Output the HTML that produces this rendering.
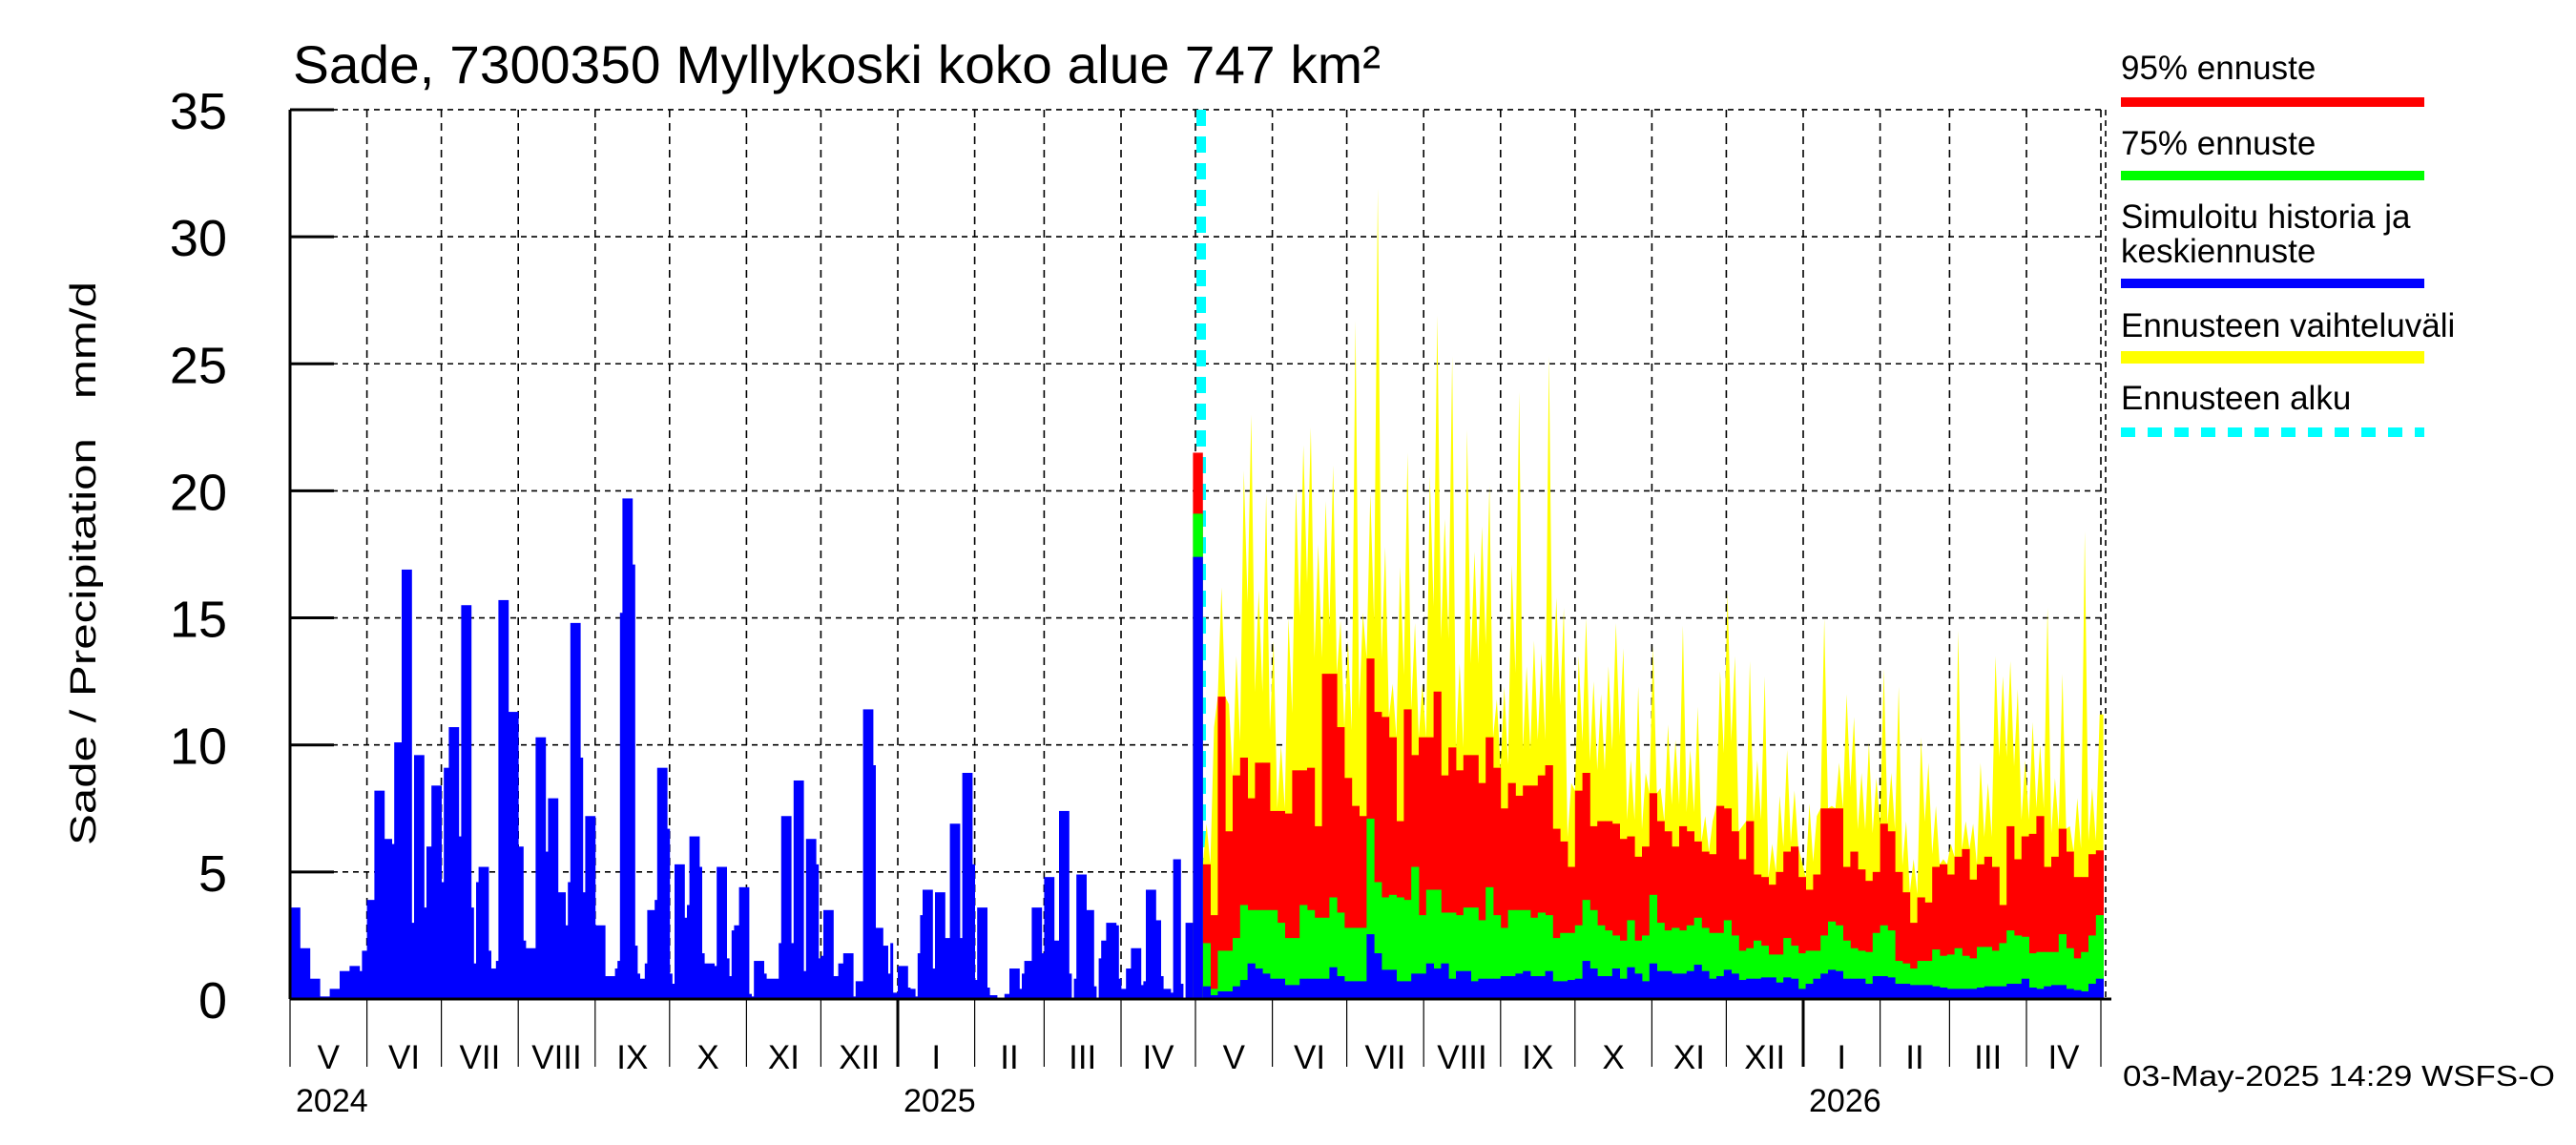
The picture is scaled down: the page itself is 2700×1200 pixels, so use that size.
<!DOCTYPE html>
<html><head><meta charset="utf-8"><style>
html,body{margin:0;padding:0;background:#fff}
svg{display:block}
text{font-family:"Liberation Sans",Arial,sans-serif;fill:#000}
</style></head><body>
<svg id="chart" width="2700" height="1200" viewBox="0 0 2700 1200" xmlns="http://www.w3.org/2000/svg">
<defs><clipPath id="plotclip"><rect x="304" y="100" width="1909" height="948"/></clipPath></defs>
<text x="307" y="87" font-size="56" textLength="1140" lengthAdjust="spacingAndGlyphs">Sade, 7300350 Myllykoski koko alue 747 km²</text>
<text transform="translate(100,886) rotate(-90)" font-size="38" textLength="591" lengthAdjust="spacingAndGlyphs" xml:space="preserve">Sade / Precipitation   mm/d</text>
<g id="grid"></g>
<g id="marks" clip-path="url(#plotclip)"></g>
<g id="axes"></g>
<g id="legend">
 <text x="2223" y="83" font-size="35">95% ennuste</text>
 <rect x="2223" y="102" width="318" height="10" fill="#ff0000"/>
 <text x="2223" y="162" font-size="35">75% ennuste</text>
 <rect x="2223" y="179" width="318" height="10" fill="#00ff00"/>
 <text x="2223" y="239" font-size="35">Simuloitu historia ja</text>
 <text x="2223" y="275" font-size="35">keskiennuste</text>
 <rect x="2223" y="292" width="318" height="10" fill="#0000ff"/>
 <text x="2223" y="353" font-size="35">Ennusteen vaihteluväli</text>
 <rect x="2223" y="368" width="318" height="13" fill="#ffff00"/>
 <text x="2223" y="429" font-size="35">Ennusteen alku</text>
 <line x1="2223" y1="453" x2="2541" y2="453" stroke="#00ffff" stroke-width="10" stroke-dasharray="15 13"/>
</g>
<text x="2225" y="1138" font-size="31" textLength="453" lengthAdjust="spacingAndGlyphs">03-May-2025 14:29 WSFS-O</text>
</svg>
<script>
// ---- data ----
const histRunDays = [4,4,4,4,4,4,4,1,2,3,4,3,1,3,4,1,4,1,2,4,1,2,4,1,4,1,1,1,4,1,2,1,4,4,2,1,4,4,1,4,3,1,1,4,1,1,4,4,4,1,1,1,4,1,1,1,2,1,3,1,4,1,1,1,4,1,1,4,1,1,4,1,4,1,1,1,2,4,1,1,4,1,5,1,4,1,4,1,4,1,1,1,4,2,2,4,1,3,4,1,3,2,1,
 1,2,4,1,2,1,1,1,4,1,4,2,4,1,4,1,1,4,1,3,3,2,4,1,1,3,4,1,4,2,4,1,1,1,4,3,1,1,1,2,4,1,1,2,2,4,1,1,4,2,1,3,1,3,1,1,3];
const histRunVals = [3.6,2.0,0.8,0.1,0.4,1.1,1.3,1.1,1.9,3.9,8.2,6.3,6.1,10.1,16.9,3.0,9.6,3.6,6.0,8.4,4.6,9.1,10.7,6.4,15.5,3.6,1.4,4.6,5.2,1.9,1.2,1.5,15.7,11.3,6.0,2.3,2.0,10.3,5.8,7.9,4.2,2.9,4.6,14.8,9.5,4.2,7.2,2.9,0.9,1.2,1.5,15.2,19.7,17.1,2.1,1.0,0.8,1.4,3.5,3.9,9.1,6.7,1.0,0.6,5.3,3.2,3.7,6.4,5.2,1.8,1.4,1.3,5.2,1.6,0.9,2.7,2.9,4.4,0.2,0.1,1.5,1.0,0.8,2.2,7.2,2.2,8.6,1.1,6.3,5.3,1.6,1.7,3.5,0.9,1.4,1.8,0.1,0.7,11.4,9.2,2.8,2.1,1.0,
 2.2,0.25,1.3,0.45,0.4,0.1,1.8,3.3,4.3,1.2,4.2,2.4,6.9,2.4,8.9,5.3,0.75,3.6,0.45,0.15,0.05,0.2,1.2,0.4,1.0,1.5,3.6,1.8,4.8,2.3,7.4,1.0,0.05,0.8,4.9,3.5,0.5,0.05,1.6,2.3,3.0,2.9,0.8,0.4,1.2,2.0,0.55,0.7,4.3,3.1,0.9,0.4,0.25,5.5,0.6,0.05,3.0];
const startBarDay = 364, startBarDays = 4;
const startBarVals = [17.4, 19.1, 21.5]; // mean, 75%, 95%
const fcStartDay = 368, fcBinDays = 3;
const fcMax = [6.9,10.7,16.2,11.6,13.5,20.8,23.0,16.1,19.9,14.1,10.0,15.0,20.1,21.8,22.5,17.9,19.6,21.0,14.9,14.1,26.7,15.2,19.9,31.9,17.8,12.4,17.0,21.5,14.8,12.4,20.6,26.9,18.9,25.3,13.2,22.4,17.6,18.6,20.2,11.8,
 12.3,17.1,23.9,13.1,14.1,13.6,25.3,15.8,15.4,8.5,13.5,15.0,12.5,12.0,13.1,14.8,13.8,9.4,12.3,8.9,13.9,8.3,10.8,10.2,14.7,9.8,11.5,7.2,7.0,12.9,16.0,13.5,6.8,13.3,9.4,12.7,6.1,8.0,9.8,8.2,5.4,
 7.7,7.2,15.0,7.6,9.3,12.0,11.1,8.9,10.1,8.7,13.0,8.9,12.3,7.0,5.5,10.3,9.3,7.6,5.5,6.1,14.5,7.0,6.9,9.3,8.5,13.5,12.7,13.3,12.2,9.4,10.9,10.0,15.4,8.7,12.8,6.8,7.9,18.4,8.3,11.2];
const fc95 = [5.3,3.3,11.9,6.6,8.8,9.5,7.9,9.3,9.3,7.4,7.4,7.3,9.0,9.0,9.1,6.8,12.8,12.8,10.7,8.7,7.6,7.2,13.4,11.3,11.1,10.3,7.0,11.4,9.6,10.3,10.3,12.1,8.8,9.9,9.0,9.6,9.6,8.5,10.3,9.1,
 7.5,8.5,8.0,8.4,8.4,8.8,9.2,6.7,6.2,5.2,8.2,8.9,6.8,7.0,7.0,6.9,6.3,6.4,5.6,6.0,8.1,7.0,6.6,6.0,6.8,6.6,6.2,5.8,5.7,7.6,7.5,6.6,5.5,7.0,4.9,4.8,4.5,5.0,5.8,6.0,4.8,
 4.3,4.9,7.5,7.5,7.5,5.2,5.8,5.1,4.65,5.0,6.9,6.6,5.0,4.2,3.0,4.0,3.8,5.2,5.3,4.9,5.6,5.9,4.7,5.3,5.6,5.2,3.7,6.8,5.5,6.4,6.5,7.2,5.2,5.6,6.7,5.8,4.8,4.8,5.7,5.85];
const fc75 = [2.2,0.4,1.9,1.9,2.4,3.7,3.5,3.5,3.5,3.5,3.0,2.4,2.4,3.7,3.5,3.2,3.2,4.0,3.4,2.8,2.8,2.8,7.1,4.6,4.0,4.1,4.0,3.9,5.2,3.3,4.3,4.3,3.4,3.4,3.3,3.6,3.6,3.1,4.4,3.3,
 2.8,3.5,3.5,3.5,3.2,3.4,3.3,2.4,2.6,2.6,2.9,3.9,3.5,2.9,2.7,2.5,2.3,3.1,2.3,2.5,4.1,3.0,2.7,2.8,2.7,2.9,3.2,2.8,2.6,2.6,3.1,2.5,1.9,2.0,2.3,2.1,1.75,1.75,2.4,2.1,1.8,
 1.9,1.9,2.5,3.05,2.9,2.3,2.0,1.9,1.85,2.6,2.9,2.7,1.5,1.4,1.2,1.5,1.5,1.95,1.7,1.75,2.0,1.7,1.6,2.05,2.05,1.9,2.2,2.7,2.5,2.45,1.8,1.85,1.85,1.85,2.55,2.0,1.6,1.85,2.5,3.3];
const fcMean = [0.5,0.15,0.3,0.3,0.5,0.75,1.4,1.2,1.0,0.8,0.8,0.55,0.55,0.8,0.8,0.8,0.8,1.25,0.9,0.7,0.7,0.7,2.55,1.8,1.15,1.15,0.7,0.7,1.0,1.0,1.4,1.2,1.4,0.8,1.1,1.1,0.7,0.8,0.8,0.8,
 0.9,0.9,1.0,1.1,0.9,0.9,1.1,0.7,0.7,0.75,0.8,1.5,1.2,0.9,0.9,1.2,0.8,1.25,1.0,0.7,1.4,1.1,1.1,1.0,1.0,1.1,1.35,1.1,0.8,0.9,1.15,1.0,0.75,0.8,0.8,0.85,0.85,0.65,0.85,0.8,0.4,
 0.6,0.8,1.0,1.15,1.1,0.8,0.8,0.8,0.6,0.9,0.9,0.85,0.6,0.6,0.55,0.55,0.55,0.5,0.45,0.4,0.4,0.4,0.4,0.45,0.5,0.5,0.5,0.6,0.6,0.8,0.45,0.4,0.5,0.55,0.55,0.4,0.35,0.3,0.6,0.8];
const yTicks = [0,5,10,15,20,25,30,35];
const monthLabels = ["V","VI","VII","VIII","IX","X","XI","XII","I","II","III","IV","V","VI","VII","VIII","IX","X","XI","XII","I","II","III","IV"];
const yearLabels = ["2024","2025","2026"];

// ---- scales ----
const X0 = 304, PXD = 2.6, Y0 = 1047, PXV = 26.63;
function xd(d){ return X0 + d*PXD; }
function yv(v){ return Y0 - v*PXV; }
const NS = "http://www.w3.org/2000/svg";
function mk(tag, attrs, parent){ const e = document.createElementNS(NS, tag); for (const k in attrs) e.setAttribute(k, attrs[k]); parent.appendChild(e); return e; }
const grid = document.getElementById('grid'), marks = document.getElementById('marks'), axes = document.getElementById('axes');

const start = Date.UTC(2024,4,1);
const bounds = [];
for (let i=0;i<=24;i++){ const d = Date.UTC(2024,4+i,1); bounds.push((d-start)/86400000); }

for (const t of yTicks){ if (t===0) continue;
  const g = mk('line',{x1:X0,x2:2207,y1:yv(t),y2:yv(t),stroke:'#000','stroke-width':1.6,'stroke-dasharray':'6 5'},grid);
    }
for (let i=1;i<bounds.length;i++){
  const g = mk('line',{x1:xd(bounds[i]),x2:xd(bounds[i]),y1:yv(35),y2:Y0,stroke:'#000','stroke-width':1.6,'stroke-dasharray':'8 6'},grid);
    }
const fr = mk('line',{x1:2207,x2:2207,y1:yv(35),y2:Y0,stroke:'#000','stroke-width':1.6,'stroke-dasharray':'6 5'},grid);
 

const cy = mk('line',{x1:1259,x2:1259,y1:yv(35),y2:Y0,stroke:'#00ffff','stroke-width':10,'stroke-dasharray':'17 11'},marks);
 

let day = 0;
for (let i=0;i<histRunVals.length;i++){
  const w = histRunDays[i];
  const r = mk('rect',{x:xd(day),y:yv(histRunVals[i]),width:w*PXD+0.4,height:histRunVals[i]*PXV,fill:'#0000ff'},marks);
   
  day += w;
}

let pts = [[xd(fcStartDay), Y0], [xd(fcStartDay), yv(fc95[0])]];
for (let k=0;k<fcMax.length;k++){
  pts.push([xd(fcStartDay+k*fcBinDays+1.5), yv(fcMax[k])]);
  if (k < fcMax.length-1){
    const v = Math.max(Math.min(fcMax[k], fcMax[k+1])*0.75, fc95[k], fc95[k+1]);
    pts.push([xd(fcStartDay+(k+1)*fcBinDays), yv(v)]);
  }
}
pts.push([xd(fcStartDay+fcMax.length*fcBinDays), yv(fcMax[fcMax.length-1])]);
pts.push([xd(fcStartDay+fcMax.length*fcBinDays), Y0]);
const yp = mk('polygon',{points:pts.map(p=>p.join(',')).join(' '),fill:'#ffff00'},marks);
 

function bars(arr, color, name){
  for (let k=0;k<arr.length;k++){
    const r = mk('rect',{x:xd(fcStartDay+k*fcBinDays),y:yv(arr[k]),width:fcBinDays*PXD+0.4,height:arr[k]*PXV,fill:color},marks);
    
    
  }
}
bars(fc95,'#ff0000','forecast-95-bar');
bars(fc75,'#00ff00','forecast-75-bar');
bars(fcMean,'#0000ff','forecast-mean-bar');

const sc = ['#0000ff','#00ff00','#ff0000'];
for (let i=2;i>=0;i--){
  const r = mk('rect',{x:xd(startBarDay),y:yv(startBarVals[i]),width:startBarDays*PXD,height:startBarVals[i]*PXV,fill:sc[i]},marks);
   
}

const ya = mk('line',{x1:X0,x2:X0,y1:yv(35),y2:Y0,stroke:'#000','stroke-width':3},axes);
 
const xa = mk('line',{x1:X0,x2:2213,y1:Y0,y2:Y0,stroke:'#000','stroke-width':3},axes);
 
for (const t of yTicks){
  const tk = mk('line',{x1:X0,x2:X0+46,y1:yv(t),y2:yv(t),stroke:'#000','stroke-width':3},axes);
   
  const tl = mk('text',{x:238,y:yv(t)+20,'font-size':54,'text-anchor':'end'},axes);
  tl.textContent = String(t);
   
}
for (let i=0;i<bounds.length;i++){
  const isJan = new Date(start + bounds[i]*86400000).getUTCMonth()===0;
  const tk = mk('line',{x1:xd(bounds[i]),x2:xd(bounds[i]),y1:Y0,y2:1118,stroke:'#000','stroke-width':isJan?3:1.2},axes);
   
  if (i<monthLabels.length){
    const ml = mk('text',{x:(xd(bounds[i])+xd(bounds[i+1]))/2,y:1120,'font-size':35,'text-anchor':'middle'},axes);
    ml.textContent = monthLabels[i];
     
  }
}
const yearPos = [0, bounds[8], bounds[20]];
for (let i=0;i<yearLabels.length;i++){
  const yl = mk('text',{x:xd(yearPos[i])+6,y:1165,'font-size':34},axes);
  yl.textContent = yearLabels[i];
   
}
</script>
</body></html>
